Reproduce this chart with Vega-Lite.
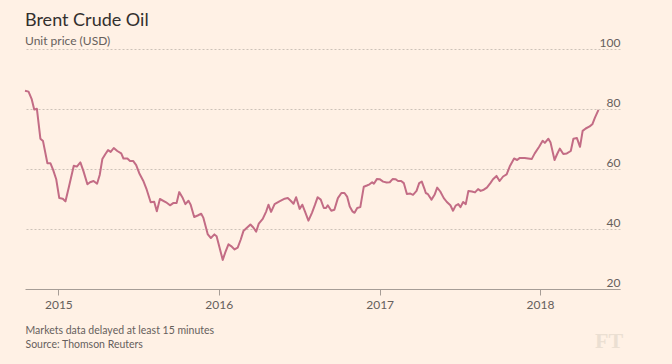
{
  "$schema": "https://vega.github.io/schema/vega-lite/v6.json",
  "width": 595,
  "height": 240,
  "autosize": {"type": "none"},
  "padding": {"left": 25, "top": 49, "right": 52, "bottom": 75},
  "background": "#FFF1E5",
  "config": {"view": {"stroke": null}, "font": "Lato"},
  "title": {
    "text": "Brent Crude Oil",
    "subtitle": "Unit price (USD)",
    "anchor": "start",
    "frame": "group",
    "font": "Lato",
    "fontSize": 18,
    "fontWeight": "normal",
    "color": "#33302E",
    "subtitleFont": "Lato",
    "subtitleFontSize": 12,
    "subtitleColor": "#66605C",
    "subtitlePadding": 6,
    "offset": -11
  },
  "layer": [
    {
      "data": {
        "values": [
          {"date": "2014-10-17", "price": 86.1},
          {"date": "2014-10-25", "price": 85.8},
          {"date": "2014-11-01", "price": 83.4},
          {"date": "2014-11-07", "price": 79.8},
          {"date": "2014-11-13", "price": 80.1},
          {"date": "2014-11-21", "price": 70.1},
          {"date": "2014-11-27", "price": 69.3},
          {"date": "2014-12-07", "price": 61.9},
          {"date": "2014-12-14", "price": 61.9},
          {"date": "2014-12-20", "price": 59.7},
          {"date": "2014-12-27", "price": 56.6},
          {"date": "2015-01-03", "price": 50.3},
          {"date": "2015-01-11", "price": 50.1},
          {"date": "2015-01-17", "price": 49.2},
          {"date": "2015-01-25", "price": 54.1},
          {"date": "2015-02-05", "price": 61.1},
          {"date": "2015-02-12", "price": 60.8},
          {"date": "2015-02-20", "price": 62.2},
          {"date": "2015-02-27", "price": 59.3},
          {"date": "2015-03-08", "price": 54.9},
          {"date": "2015-03-14", "price": 55.6},
          {"date": "2015-03-22", "price": 56.0},
          {"date": "2015-03-30", "price": 55.1},
          {"date": "2015-04-05", "price": 58.0},
          {"date": "2015-04-11", "price": 63.3},
          {"date": "2015-04-18", "price": 65.0},
          {"date": "2015-04-24", "price": 66.3},
          {"date": "2015-04-30", "price": 65.7},
          {"date": "2015-05-07", "price": 67.0},
          {"date": "2015-05-15", "price": 66.0},
          {"date": "2015-05-24", "price": 65.2},
          {"date": "2015-05-29", "price": 63.5},
          {"date": "2015-06-07", "price": 63.5},
          {"date": "2015-06-13", "price": 62.7},
          {"date": "2015-06-20", "price": 62.7},
          {"date": "2015-06-27", "price": 61.3},
          {"date": "2015-07-04", "price": 58.6},
          {"date": "2015-07-13", "price": 56.1},
          {"date": "2015-07-21", "price": 53.1},
          {"date": "2015-07-30", "price": 48.9},
          {"date": "2015-08-07", "price": 49.1},
          {"date": "2015-08-13", "price": 45.9},
          {"date": "2015-08-20", "price": 50.0},
          {"date": "2015-09-03", "price": 48.9},
          {"date": "2015-09-12", "price": 47.9},
          {"date": "2015-09-20", "price": 48.7},
          {"date": "2015-09-27", "price": 48.7},
          {"date": "2015-10-03", "price": 52.3},
          {"date": "2015-10-11", "price": 50.3},
          {"date": "2015-10-17", "price": 48.3},
          {"date": "2015-10-24", "price": 49.4},
          {"date": "2015-10-29", "price": 48.1},
          {"date": "2015-11-06", "price": 44.0},
          {"date": "2015-11-14", "price": 44.5},
          {"date": "2015-11-22", "price": 45.1},
          {"date": "2015-11-27", "price": 43.7},
          {"date": "2015-12-07", "price": 38.2},
          {"date": "2015-12-14", "price": 37.0},
          {"date": "2015-12-22", "price": 38.2},
          {"date": "2015-12-27", "price": 37.6},
          {"date": "2016-01-10", "price": 29.7},
          {"date": "2016-01-16", "price": 32.3},
          {"date": "2016-01-23", "price": 34.9},
          {"date": "2016-01-29", "price": 34.3},
          {"date": "2016-02-06", "price": 33.2},
          {"date": "2016-02-13", "price": 33.8},
          {"date": "2016-02-20", "price": 36.5},
          {"date": "2016-02-26", "price": 39.3},
          {"date": "2016-03-05", "price": 40.4},
          {"date": "2016-03-13", "price": 41.5},
          {"date": "2016-03-20", "price": 40.4},
          {"date": "2016-03-26", "price": 39.1},
          {"date": "2016-04-01", "price": 41.8},
          {"date": "2016-04-10", "price": 43.4},
          {"date": "2016-04-18", "price": 45.9},
          {"date": "2016-04-23", "price": 48.1},
          {"date": "2016-04-29", "price": 45.7},
          {"date": "2016-05-07", "price": 48.3},
          {"date": "2016-05-18", "price": 49.2},
          {"date": "2016-05-30", "price": 50.1},
          {"date": "2016-06-06", "price": 50.3},
          {"date": "2016-06-12", "price": 49.5},
          {"date": "2016-06-19", "price": 48.4},
          {"date": "2016-06-25", "price": 50.6},
          {"date": "2016-07-03", "price": 46.7},
          {"date": "2016-07-09", "price": 48.1},
          {"date": "2016-07-15", "price": 45.9},
          {"date": "2016-07-23", "price": 42.8},
          {"date": "2016-07-31", "price": 45.4},
          {"date": "2016-08-07", "price": 48.1},
          {"date": "2016-08-13", "price": 50.6},
          {"date": "2016-08-20", "price": 49.8},
          {"date": "2016-08-27", "price": 47.0},
          {"date": "2016-09-01", "price": 47.0},
          {"date": "2016-09-05", "price": 47.9},
          {"date": "2016-09-13", "price": 46.1},
          {"date": "2016-09-20", "price": 46.4},
          {"date": "2016-09-28", "price": 50.3},
          {"date": "2016-10-06", "price": 52.0},
          {"date": "2016-10-13", "price": 52.0},
          {"date": "2016-10-19", "price": 50.8},
          {"date": "2016-10-25", "price": 47.5},
          {"date": "2016-10-31", "price": 45.9},
          {"date": "2016-11-05", "price": 45.4},
          {"date": "2016-11-11", "price": 47.0},
          {"date": "2016-11-18", "price": 47.3},
          {"date": "2016-11-26", "price": 54.1},
          {"date": "2016-12-03", "price": 54.5},
          {"date": "2016-12-09", "price": 54.9},
          {"date": "2016-12-15", "price": 55.6},
          {"date": "2016-12-19", "price": 55.1},
          {"date": "2016-12-26", "price": 56.7},
          {"date": "2017-01-01", "price": 56.6},
          {"date": "2017-01-09", "price": 55.8},
          {"date": "2017-01-17", "price": 55.5},
          {"date": "2017-01-24", "price": 55.6},
          {"date": "2017-01-31", "price": 56.7},
          {"date": "2017-02-06", "price": 56.6},
          {"date": "2017-02-12", "price": 56.0},
          {"date": "2017-02-19", "price": 56.0},
          {"date": "2017-02-25", "price": 55.3},
          {"date": "2017-03-04", "price": 51.7},
          {"date": "2017-03-12", "price": 51.8},
          {"date": "2017-03-18", "price": 51.4},
          {"date": "2017-03-26", "price": 52.7},
          {"date": "2017-04-01", "price": 55.3},
          {"date": "2017-04-07", "price": 55.8},
          {"date": "2017-04-13", "price": 53.4},
          {"date": "2017-04-16", "price": 52.0},
          {"date": "2017-04-21", "price": 51.6},
          {"date": "2017-04-29", "price": 49.8},
          {"date": "2017-05-06", "price": 51.4},
          {"date": "2017-05-12", "price": 53.8},
          {"date": "2017-05-19", "price": 52.5},
          {"date": "2017-05-27", "price": 50.3},
          {"date": "2017-06-03", "price": 49.0},
          {"date": "2017-06-11", "price": 47.9},
          {"date": "2017-06-17", "price": 46.1},
          {"date": "2017-06-23", "price": 47.8},
          {"date": "2017-06-29", "price": 48.3},
          {"date": "2017-07-04", "price": 47.3},
          {"date": "2017-07-10", "price": 49.0},
          {"date": "2017-07-16", "price": 48.3},
          {"date": "2017-07-22", "price": 52.7},
          {"date": "2017-07-30", "price": 52.5},
          {"date": "2017-08-06", "price": 52.2},
          {"date": "2017-08-13", "price": 53.3},
          {"date": "2017-08-19", "price": 52.7},
          {"date": "2017-08-26", "price": 53.1},
          {"date": "2017-09-02", "price": 53.8},
          {"date": "2017-09-10", "price": 55.3},
          {"date": "2017-09-16", "price": 56.6},
          {"date": "2017-09-24", "price": 57.7},
          {"date": "2017-10-01", "price": 56.0},
          {"date": "2017-10-09", "price": 57.5},
          {"date": "2017-10-17", "price": 58.2},
          {"date": "2017-10-24", "price": 60.8},
          {"date": "2017-11-03", "price": 63.5},
          {"date": "2017-11-10", "price": 63.0},
          {"date": "2017-11-16", "price": 63.7},
          {"date": "2017-11-27", "price": 63.7},
          {"date": "2017-12-13", "price": 63.3},
          {"date": "2017-12-20", "price": 65.2},
          {"date": "2017-12-30", "price": 67.4},
          {"date": "2018-01-07", "price": 69.4},
          {"date": "2018-01-12", "price": 68.7},
          {"date": "2018-01-20", "price": 70.1},
          {"date": "2018-01-25", "price": 68.8},
          {"date": "2018-02-03", "price": 63.0},
          {"date": "2018-02-09", "price": 65.0},
          {"date": "2018-02-15", "price": 66.8},
          {"date": "2018-02-23", "price": 65.0},
          {"date": "2018-03-03", "price": 65.2},
          {"date": "2018-03-12", "price": 66.0},
          {"date": "2018-03-18", "price": 70.1},
          {"date": "2018-03-26", "price": 70.3},
          {"date": "2018-04-02", "price": 67.4},
          {"date": "2018-04-08", "price": 72.7},
          {"date": "2018-04-15", "price": 73.5},
          {"date": "2018-04-24", "price": 74.2},
          {"date": "2018-04-30", "price": 74.9},
          {"date": "2018-05-06", "price": 77.1},
          {"date": "2018-05-14", "price": 79.7}
        ]
      },
      "mark": {"type": "line", "color": "#c36c85", "strokeWidth": 2, "strokeJoin": "round"},
      "encoding": {
        "x": {
          "field": "date",
          "type": "temporal",
          "scale": {"domain": [{"year": 2014, "month": 10, "date": 17}, {"year": 2018, "month": 7, "date": 2}]},
          "axis": {
            "values": [{"year": 2015, "month": 1, "date": 1}, {"year": 2016, "month": 1, "date": 1}, {"year": 2017, "month": 1, "date": 1}, {"year": 2018, "month": 1, "date": 1}],
            "format": "%Y",
            "grid": false,
            "domain": true,
            "domainColor": "#a69d96",
            "domainWidth": 1,
            "ticks": true,
            "tickColor": "#a69d96",
            "tickSize": 6,
            "labelFont": "Lato",
            "labelFontSize": 12,
            "labelColor": "#66605C",
            "labelPadding": 4,
            "labelFlush": false,
            "title": ["Markets data delayed at least 15 minutes", "Source: Thomson Reuters"],
            "titleFont": "Lato",
            "titleAnchor": "start",
            "titleAlign": "left",
            "titleFontSize": 10.5,
            "titleFontWeight": "normal",
            "titleColor": "#66605C",
            "titlePadding": 15,
            "titleLineHeight": 14
          }
        },
        "y": {
          "field": "price",
          "type": "quantitative",
          "scale": {"domain": [20, 100], "nice": false, "zero": false},
          "axis": {
            "orient": "right",
            "values": [20, 40, 60, 80, 100],
            "domain": false,
            "ticks": false,
            "grid": true,
            "gridColor": "#cdc2b8",
            "gridDash": [2, 2],
            "gridWidth": 1,
            "labelAlign": "right",
            "labelBaseline": "alphabetic",
            "labelOffset": -3,
            "labelPadding": 0,
            "labelFont": "Lato",
            "labelFontSize": 12,
            "labelColor": "#66605C",
            "title": null
          }
        }
      }
    },
    {
      "data": {"values": [{"logo": "FT"}]},
      "mark": {"type": "text", "font": "Liberation Serif", "fontWeight": "bold", "fontSize": 22, "color": "#ebdfd2", "align": "center", "baseline": "middle"},
      "encoding": {
        "x": {"datum": {"year": 2018, "month": 6, "date": 7}, "type": "temporal"},
        "y": {"datum": 2.8, "type": "quantitative"},
        "text": {"field": "logo"}
      }
    }
  ]
}
